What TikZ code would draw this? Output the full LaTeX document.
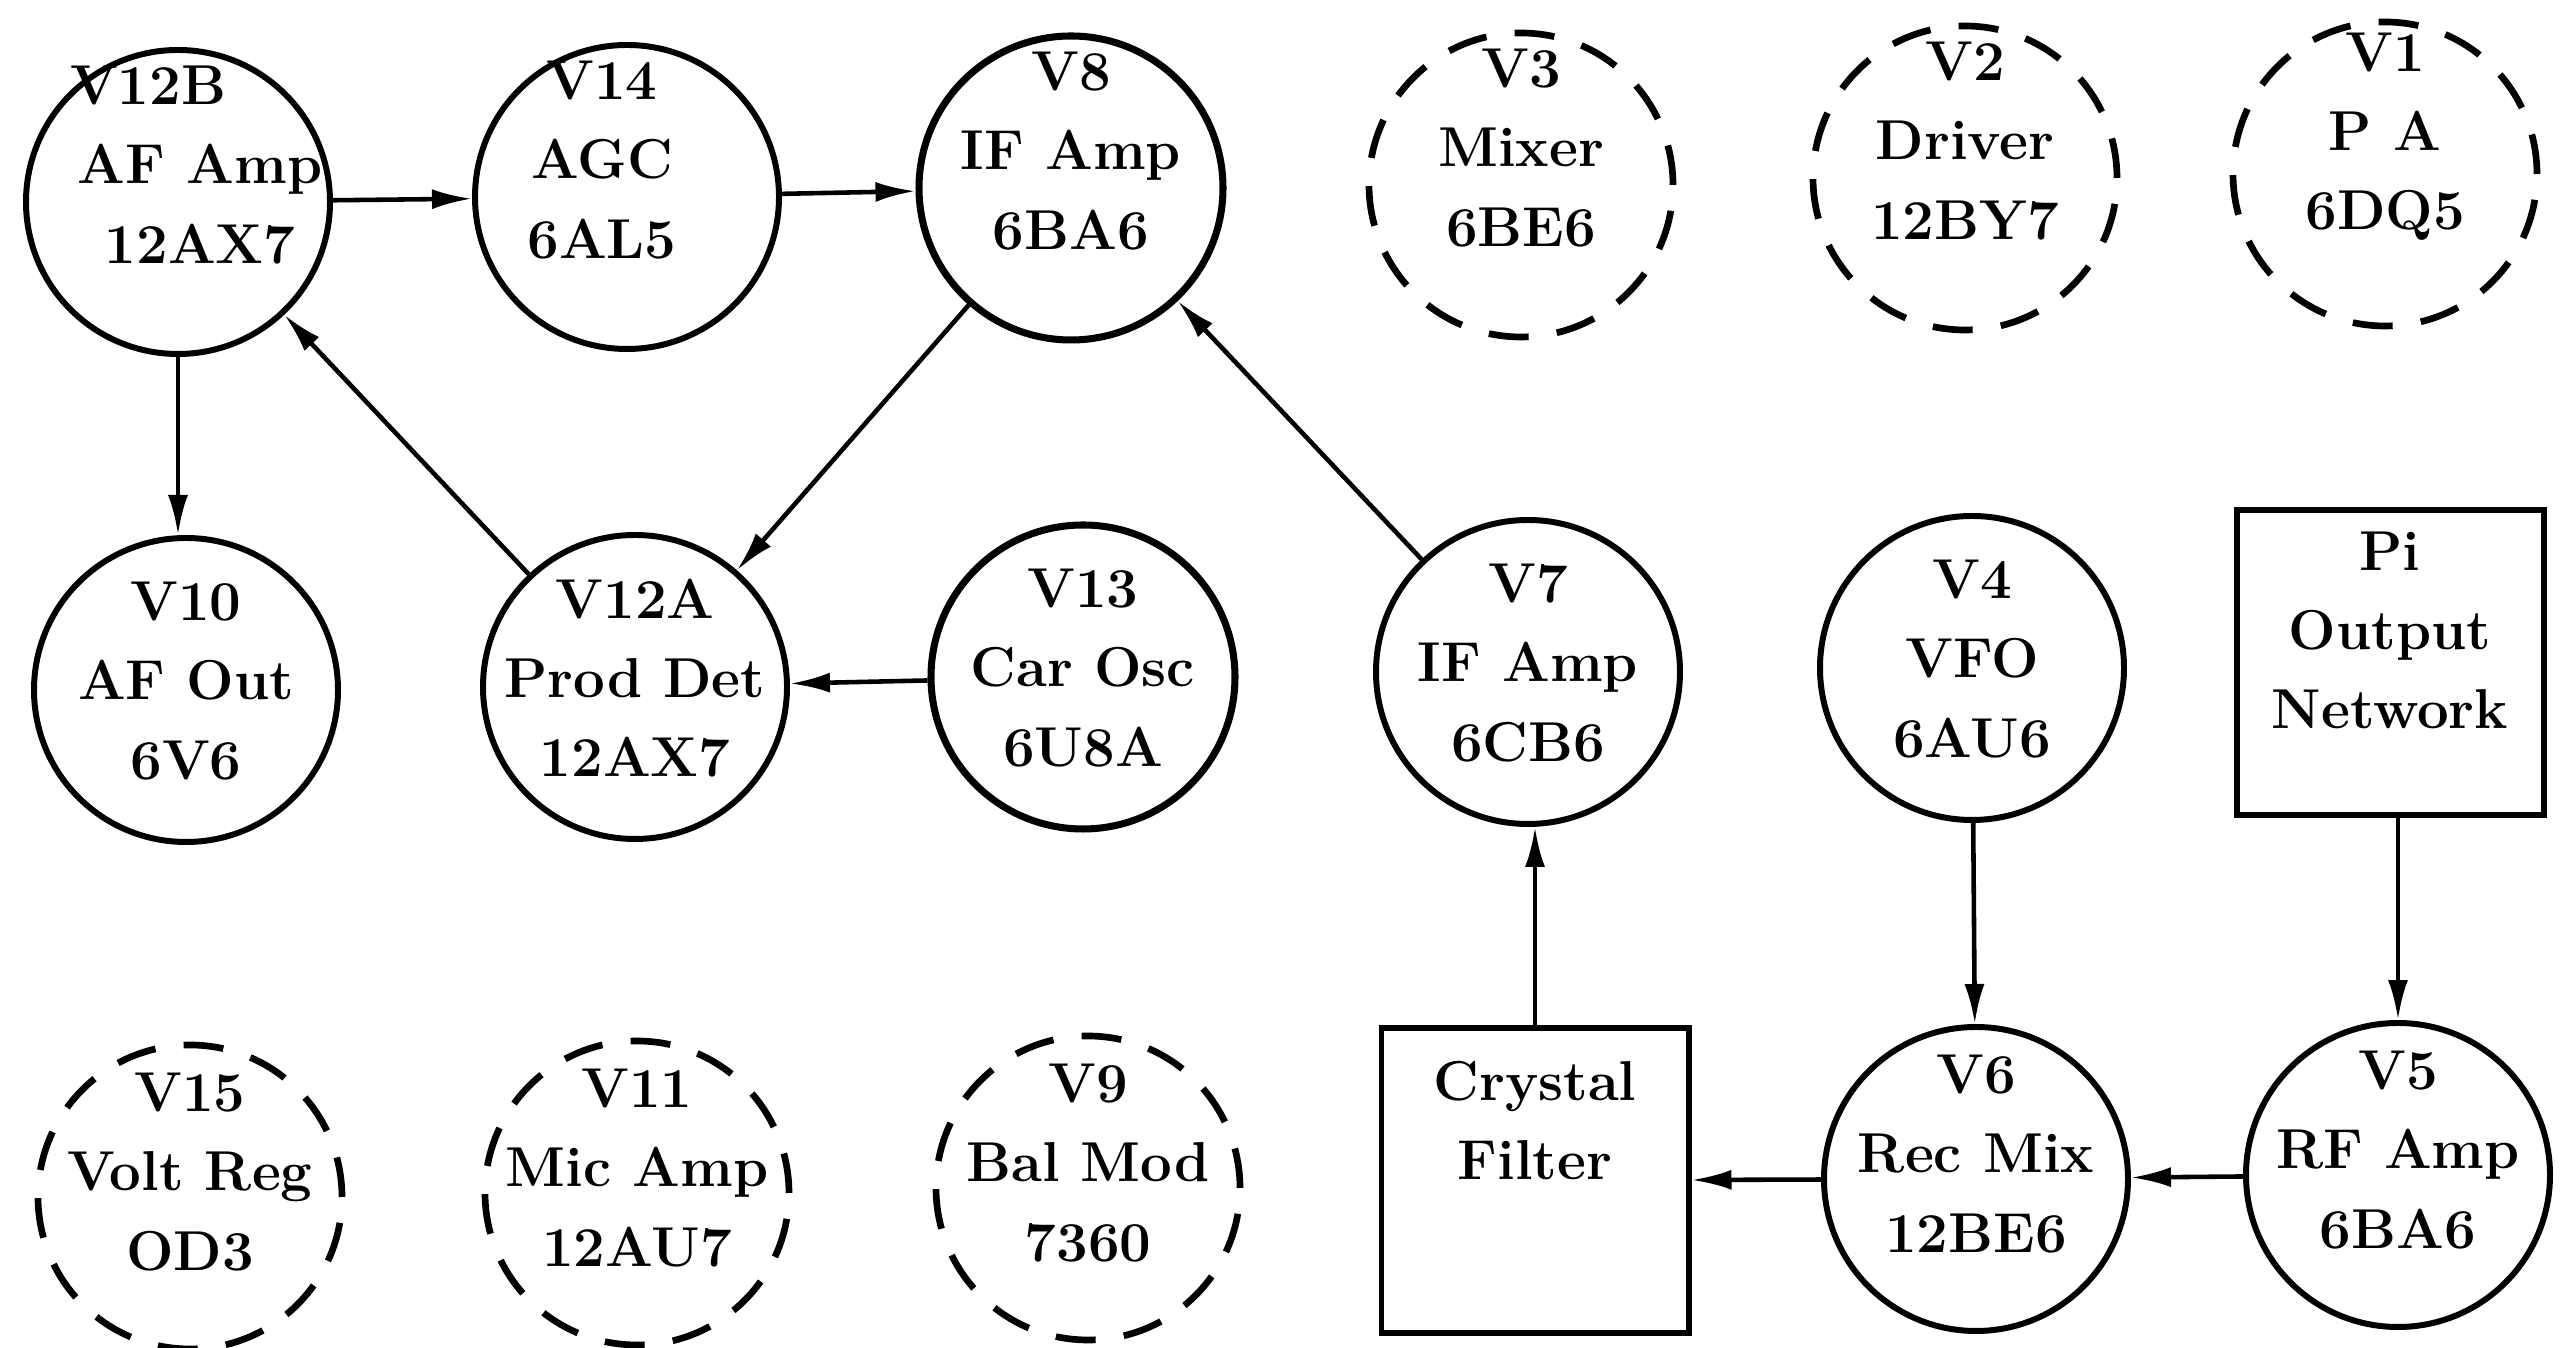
\documentclass[tikz,border=0pt]{standalone}
\usepackage{fontspec}
\usetikzlibrary{arrows.meta}

\tikzset{
  tubetext/.style={align=center, font=\fontsize{16}{22.5}\selectfont\bfseries},
  tube/.style={circle, draw, line width=1.7pt, minimum size=3.04cm, inner sep=0pt,
    label={[tubetext]center:#1}},
  txtube/.style={tube={#1}, line width=1.9pt, dash pattern=on 4mm off 2.84mm},
  block/.style={rectangle, draw, line width=1.7pt, minimum width=3.07cm,
    minimum height=3.05cm, inner sep=0pt, label={[tubetext]center:#1}},
  sig/.style={line width=1.3pt, -{Latex[length=4mm, width=2mm]}}
}

\begin{document}
\begin{tikzpicture}
  \useasboundingbox (0,0) rectangle (25.68,13.48);

  % top row
  \begin{scope}[every label/.append style={yshift=3.7mm}]
    \begin{scope}[every label/.append style={xshift=2.2mm}]
      \node[tube={\makebox[2.6cm][l]{V12B}\\AF Amp\\12AX7}] (v12b) at (1.78,11.46) {};
    \end{scope}
    \begin{scope}[every label/.append style={xshift=-2.5mm}]
      \node[tube={V14\\AGC\\6AL5}] (v14) at (6.27,11.51) {};
    \end{scope}
    \node[tube={V8\\IF Amp\\6BA6}, line width=2pt] (v8) at (10.71,11.60) {};
    \node[txtube={V3\\Mixer\\6BE6}] (v3) at (15.21,11.63) {};
    \node[txtube={V2\\Driver\\12BY7}] (v2) at (19.65,11.70) {};
    \node[txtube={V1\\P A\\6DQ5}] (v1) at (23.85,11.74) {};
  \end{scope}

  % middle row
  \begin{scope}[every label/.append style={yshift=0.9mm}]
    \node[tube={V10\\AF Out\\6V6}] (v10) at (1.86,6.58) {};
    \node[tube={V12A\\Prod Det\\12AX7}] (v12a) at (6.35,6.61) {};
    \node[tube={V13\\Car Osc\\6U8A}, line width=2pt] (v13) at (10.83,6.71) {};
    \node[tube={V7\\IF Amp\\6CB6}] (v7) at (15.28,6.76) {};
    \node[tube={V4\\VFO\\6AU6}] (v4) at (19.72,6.80) {};
  \end{scope}
  \begin{scope}[every label/.append style={yshift=3.25mm}]
    \node[block={Pi\\Output\\Network}] (pi) at (23.90,6.855) {};
  \end{scope}

  % bottom row
  \begin{scope}[every label/.append style={yshift=2.5mm}]
    \node[txtube={V15\\Volt Reg\\OD3}] (v15) at (1.90,1.51) {};
    \node[txtube={V11\\Mic Amp\\12AU7}] (v11) at (6.37,1.55) {};
    \node[txtube={V9\\Bal Mod\\7360}] (v9) at (10.88,1.60) {};
    \node[tube={V6\\Rec Mix\\12BE6}] (v6) at (19.76,1.69) {};
    \node[tube={V5\\RF Amp\\6BA6}] (v5) at (23.98,1.73) {};
  \end{scope}
  \begin{scope}[every label/.append style={yshift=6mm}]
    \node[block={Crystal\\Filter}] (xtal) at (15.35,1.675) {};
  \end{scope}

  % signal path
  \draw[sig] (pi.south -| v5.north) -- (v5.north);
  \draw[sig] (v5) -- (v6);
  \draw[sig] (v4) -- (v6);
  \draw[sig] (v6) -- (xtal);
  \draw[sig] (xtal.north) -- (xtal.north |- v7.south);
  \draw[sig] (v7) -- (v8);
  \draw[sig] (v8) -- (v12a);
  \draw[sig] (v13) -- (v12a);
  \draw[sig] (v12a) -- (v12b);
  \draw[sig] (v12b) -- (v14);
  \draw[sig] (v14) -- (v8);
  \draw[sig] (v12b.south) -- (v12b.south |- v10.north);
\end{tikzpicture}
\end{document}
